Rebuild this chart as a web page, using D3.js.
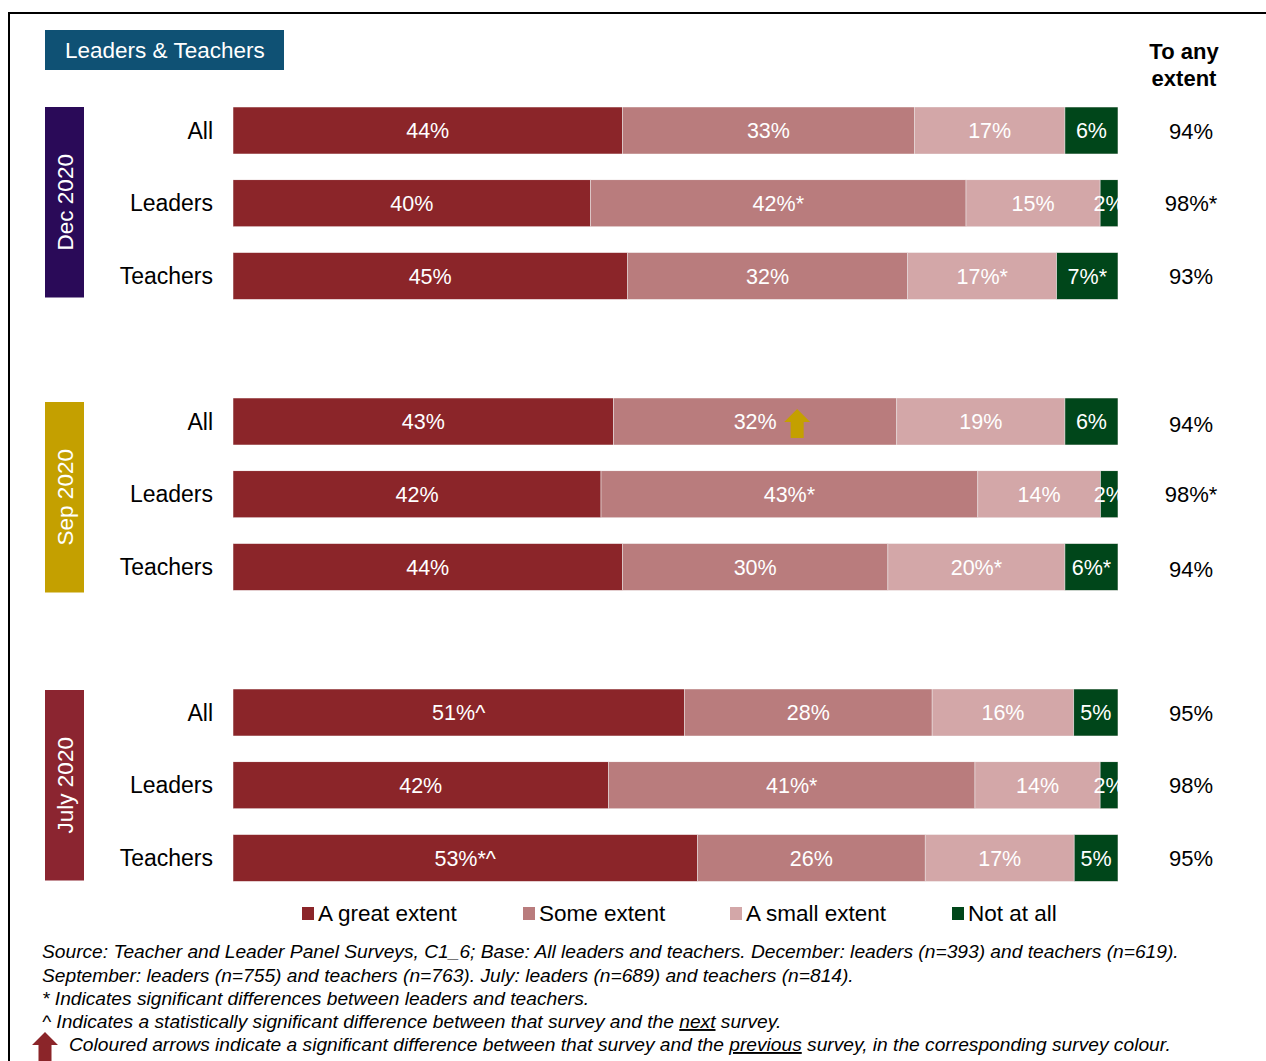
<!DOCTYPE html>
<html><head><meta charset="utf-8">
<script src="https://cdn.jsdelivr.net/npm/d3@7/dist/d3.min.js"></script>
<style>body{margin:0;background:#fff;}svg{display:block;font-family:"Liberation Sans",Arial,sans-serif;}</style>
</head><body>
<svg id="c" width="1266" height="1061"></svg>
<script>
const surveys = ["Dec 2020", "Sep 2020", "July 2020"];
const surveyColors = ["#2a0a58", "#c4a000", "#8b2530"];
const groups = ["All", "Leaders", "Teachers"];
const categories = ["A great extent", "Some extent", "A small extent", "Not at all"];
const catColors = ["#8b2529", "#b97c7d", "#d3a7a8", "#00461a"];
// rows: Dec(All,Leaders,Teachers), Sep(...), July(...)
const greatExtent = [44, 40, 45, 43, 42, 44, 51, 42, 53];
const someExtent  = [33, 42, 32, 32, 43, 30, 28, 41, 26];
const smallExtent = [17, 15, 17, 19, 14, 20, 16, 14, 17];
const notAtAll    = [6, 2, 7, 6, 2, 6, 5, 2, 5];
const greatMarks = ["", "", "", "", "", "", "^", "", "*^"];
const someMarks  = ["", "*", "", "", "*", "", "", "*", ""];
const smallMarks = ["", "", "*", "", "", "*", "", "", ""];
const notMarks   = ["", "", "*", "", "", "*", "", "", ""];
const anyExtent  = ["94%", "98%*", "93%", "94%", "98%*", "94%", "95%", "98%", "95%"];
const arrows = [{row: 3, seg: 1, survey: 1}];

const series = [greatExtent, someExtent, smallExtent, notAtAll];
const marks = [greatMarks, someMarks, smallMarks, notMarks];

const svg = d3.select("#c");
const BAR_X0 = 233, BAR_X1 = 1118, BAR_H = 47;
const rowIndex = (s, g) => s * 4 + g;
const y = d3.scaleLinear().domain([0, 1]).range([107, 107 + 72.75]);
const boxShift = [0, 4, 1];

svg.append("path").attr("d", "M9,1061 V13 H1266").attr("fill", "none").attr("stroke", "#000").attr("stroke-width", 2);

svg.append("rect").attr("x", 45).attr("y", 30).attr("width", 239).attr("height", 40).attr("fill", "#0f5174");
svg.append("text").attr("x", 65).attr("y", 58).attr("fill", "#fff").attr("font-size", 22.5).text("Leaders & Teachers");

const hdr = svg.append("text").attr("text-anchor", "middle").attr("font-weight", "bold").attr("font-size", 22);
hdr.append("tspan").attr("x", 1184).attr("y", 59).text("To any");
hdr.append("tspan").attr("x", 1184).attr("y", 86).text("extent");

const defs = svg.append("defs");

surveys.forEach((sv, s) => {
  const top = y(rowIndex(s, 0)) + boxShift[s], bot = y(rowIndex(s, 2)) + BAR_H + boxShift[s] - 2;
  svg.append("rect").attr("x", 45).attr("y", top).attr("width", 39).attr("height", bot - top).attr("fill", surveyColors[s]);
  const cx = 64.5, cy = (top + bot) / 2;
  svg.append("text").attr("transform", `translate(${cx + 8},${cy}) rotate(-90)`)
    .attr("text-anchor", "middle").attr("fill", "#fff").attr("font-size", 22.5).text(sv);

  groups.forEach((gname, g) => {
    const r = s * 3 + g;
    const yy = y(rowIndex(s, g));
    const vals = series.map(a => a[r]);
    const total = d3.sum(vals);
    const x = d3.scaleLinear().domain([0, total]).range([BAR_X0, BAR_X1]);
    const clipId = "clip" + r;
    defs.append("clipPath").attr("id", clipId).append("rect")
      .attr("x", BAR_X0).attr("y", yy).attr("width", BAR_X1 - BAR_X0).attr("height", BAR_H);
    const gBar = svg.append("g").attr("clip-path", `url(#${clipId})`);
    let cum = 0;
    vals.forEach((v, k) => {
      const x0 = x(cum), x1 = x(cum + v);
      gBar.append("rect").attr("x", x0).attr("y", yy).attr("width", x1 - x0).attr("height", BAR_H)
        .attr("fill", catColors[k]).attr("stroke", "#e8dede").attr("stroke-width", 0.6);
      gBar.append("text").attr("x", (x0 + x1) / 2).attr("y", yy + BAR_H / 2 + 7.5)
        .attr("text-anchor", "middle").attr("fill", "#fff").attr("font-size", 21.5)
        .text(v + "%" + marks[k][r]);
      arrows.filter(a => a.row === r && a.seg === k).forEach(a => {
        const ax = (x0 + x1) / 2 + 42, ay = yy + 11;
        gBar.append("path").attr("fill", surveyColors[a.survey])
          .attr("d", `M${ax},${ay} L${ax + 13},${ay + 13} L${ax + 6.5},${ay + 13} L${ax + 6.5},${ay + 29} L${ax - 6.5},${ay + 29} L${ax - 6.5},${ay + 13} L${ax - 13},${ay + 13} Z`);
      });
      cum += v;
    });
    svg.append("text").attr("x", 213).attr("y", yy + BAR_H / 2 + 8).attr("text-anchor", "end")
      .attr("font-size", 23).attr("fill", "#000").text(gname);
    svg.append("text").attr("x", 1191).attr("y", yy + BAR_H / 2 + 8 + (s === 1 && g !== 1 ? 2 : 0)).attr("text-anchor", "middle")
      .attr("font-size", 22).attr("fill", "#000").text(anyExtent[r]);
  });
});

const legX = [302, 523, 730, 952];
categories.forEach((c, k) => {
  svg.append("rect").attr("x", legX[k]).attr("y", 907).attr("width", 12).attr("height", 13).attr("fill", catColors[k]);
  svg.append("text").attr("x", legX[k] + 16).attr("y", 921).attr("font-size", 22.5).attr("fill", "#000").text(c);
});

const fn = svg.append("g").attr("font-size", 19.2).attr("font-style", "italic").attr("fill", "#000");
fn.append("text").attr("x", 42).attr("y", 958).text("Source: Teacher and Leader Panel Surveys, C1_6; Base: All leaders and teachers. December: leaders (n=393) and teachers (n=619).");
fn.append("text").attr("x", 42).attr("y", 982).text("September: leaders (n=755) and teachers (n=763). July: leaders (n=689) and teachers (n=814).");
fn.append("text").attr("x", 42).attr("y", 1005).text("* Indicates significant differences between leaders and teachers.");
const t4 = fn.append("text").attr("x", 42).attr("y", 1028);
t4.append("tspan").text("^ Indicates a statistically significant difference between that survey and the ");
t4.append("tspan").attr("text-decoration", "underline").text("next");
t4.append("tspan").text(" survey.");
const t5 = fn.append("text").attr("x", 69).attr("y", 1051);
t5.append("tspan").text("Coloured arrows indicate a significant difference between that survey and the ");
t5.append("tspan").attr("text-decoration", "underline").text("previous");
t5.append("tspan").text(" survey, in the corresponding survey colour.");
const fx = 45, fy = 1032;
svg.append("path").attr("fill", "#8b2529")
  .attr("d", `M${fx},${fy} L${fx + 13},${fy + 13} L${fx + 6.5},${fy + 13} L${fx + 6.5},${fy + 29} L${fx - 6.5},${fy + 29} L${fx - 6.5},${fy + 13} L${fx - 13},${fy + 13} Z`);
</script>
</body></html>
